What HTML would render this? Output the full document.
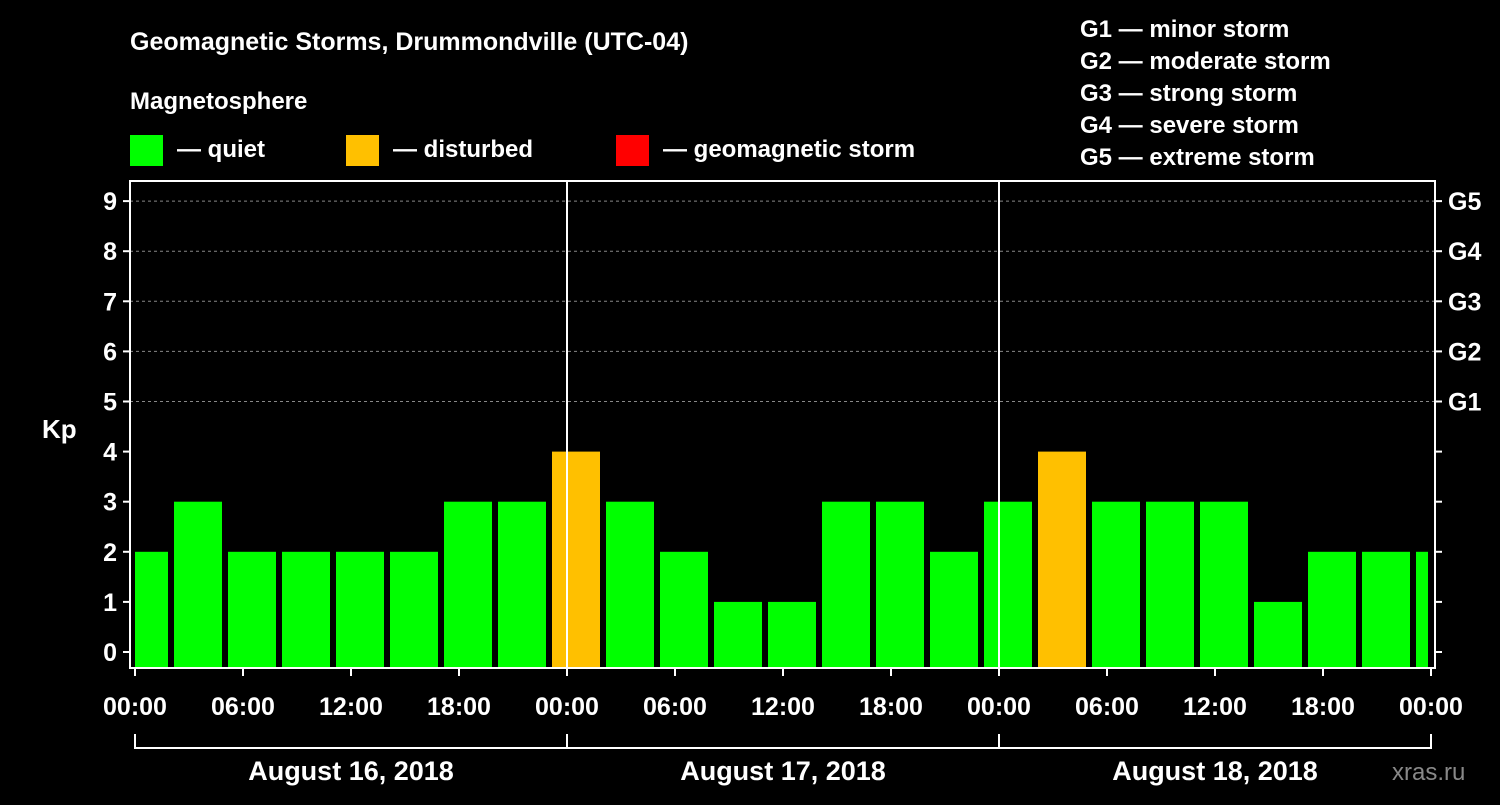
<!DOCTYPE html>
<html><head><meta charset="utf-8"><style>
body{margin:0;background:#000;width:1500px;height:800px;overflow:hidden;font-family:"Liberation Sans",sans-serif}
svg text{font-family:"Liberation Sans",sans-serif;font-weight:bold;fill:#fff}
</style></head><body>
<svg id="c" width="1500" height="800" xmlns="http://www.w3.org/2000/svg">
<text x="130" y="50" font-size="25">Geomagnetic Storms, Drummondville (UTC-04)</text>
<text x="130" y="109" font-size="24">Magnetosphere</text>
<rect x="130" y="135" width="33" height="31" fill="#00ff00"/>
<text x="177" y="157" font-size="24">— quiet</text>
<rect x="346" y="135" width="33" height="31" fill="#ffc000"/>
<text x="393" y="157" font-size="24">— disturbed</text>
<rect x="616" y="135" width="33" height="31" fill="#ff0000"/>
<text x="663" y="157" font-size="24">— geomagnetic storm</text>
<g font-size="24">
<text x="1080" y="37">G1 — minor storm</text>
<text x="1080" y="69">G2 — moderate storm</text>
<text x="1080" y="101">G3 — strong storm</text>
<text x="1080" y="133">G4 — severe storm</text>
<text x="1080" y="165">G5 — extreme storm</text>
</g>
<text x="42" y="438" font-size="26">Kp</text>
<text x="1392" y="780" font-size="24" fill="#888" style="fill:#888;font-weight:normal">xras.ru</text>
<g id="plot"></g>
</svg>
<script>
const kpValues=[2,3,2,2,2,2,3,3,4,3,2,1,1,3,3,2,3,4,3,3,3,1,2,2,2];
const firstBarHour=-1;
const dayLabels=["August 16, 2018","August 17, 2018","August 18, 2018"];
const hourLabels=["00:00","06:00","12:00","18:00"];
const gLabels=["G1","G2","G3","G4","G5"];
const L=130,R=1435,T=181,B=668,X0=135,PXH=18;
const xs=h=>X0+h*PXH, ys=v=>652-v*50.1;
const NS="http://www.w3.org/2000/svg",p=document.getElementById('plot');
function mk(t,a){const e=document.createElementNS(NS,t);for(const k in a)e.setAttribute(k,a[k]);p.appendChild(e);return e;}
for(let v=5;v<=9;v++){const e=mk('line',{x1:L,x2:R,y1:ys(v),y2:ys(v),stroke:'#888','stroke-dasharray':'3,3'});

}
kpValues.forEach((v,i)=>{const h=firstBarHour+i*3;let x1=Math.max(xs(h)+3,X0),x2=Math.min(xs(h+3)-3,1428);
const c=v>=5?'#ff0000':v>=4?'#ffc000':'#00ff00';
const e=mk('rect',{x:x1,y:ys(v),width:x2-x1,height:B-ys(v),fill:c});

});
[1,2].forEach(d=>{const e=mk('line',{x1:xs(d*24),x2:xs(d*24),y1:T,y2:B,stroke:'#fff','stroke-width':2});

});
const fr=mk('rect',{x:L,y:T,width:R-L,height:B-T,fill:'none',stroke:'#fff','stroke-width':2});


for(let v=0;v<=9;v++){mk('line',{x1:L-7,x2:L,y1:ys(v),y2:ys(v),stroke:'#fff','stroke-width':2});
mk('line',{x1:R,x2:R+7,y1:ys(v),y2:ys(v),stroke:'#fff','stroke-width':2});
const t=mk('text',{x:L-13,y:ys(v)+9,'font-size':25,'text-anchor':'end'});t.textContent=v;

}
gLabels.forEach((g,i)=>{const t=mk('text',{x:1448,y:ys(5+i)+9,'font-size':25});t.textContent=g;

});
for(let h=0;h<=72;h+=6){mk('line',{x1:xs(h),x2:xs(h),y1:B,y2:B+8,stroke:'#fff','stroke-width':2});
const t=mk('text',{x:xs(h),y:715,'font-size':25,'text-anchor':'middle'});t.textContent=hourLabels[(h/6)%4];

}
mk('line',{x1:xs(0),x2:xs(72),y1:748,y2:748,stroke:'#fff','stroke-width':2});
for(let d=0;d<=3;d++)mk('line',{x1:xs(d*24),x2:xs(d*24),y1:734,y2:749,stroke:'#fff','stroke-width':2});
dayLabels.forEach((s,d)=>{const t=mk('text',{x:xs(d*24+12),y:780,'font-size':27,'text-anchor':'middle'});t.textContent=s;

});
</script>
</body></html>
